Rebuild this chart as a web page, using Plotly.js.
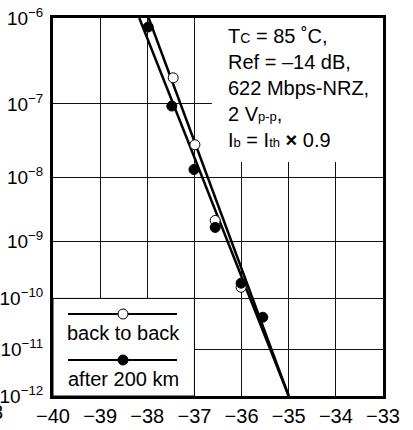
<!DOCTYPE html>
<html>
<head>
<meta charset="utf-8">
<script src="https://cdn.plot.ly/plotly-3.0.1.min.js"></script>
<style>
  html, body { margin: 0; padding: 0; background: #fff; }
  #chart { width: 413px; height: 430px; }
</style>
</head>
<body>
<div id="chart"></div>
<script>
// ---- data (received power in dBm, bit error rate) ----
const b2bPower = [-37.45, -36.99, -36.56, -36.01];
const b2bBer   = [2.1e-7, 2.9e-8, 2.2e-9, 1.6e-10];
const km200Power = [-37.98, -37.48, -37.01, -36.56, -36.01, -35.55];
const km200Ber   = [8.0e-7, 9.4e-8, 1.3e-8, 1.7e-9, 1.9e-10, 4.4e-11];
// fitted lines (end points)
const b2bFitPower = [-37.97, -35.0];
const b2bFitBer   = [1e-6, 1e-12];
const km200FitPower = [-38.17, -35.0];
const km200FitBer   = [1e-6, 1e-12];
// axis ticks
const xTicks = [-40, -39, -38, -37, -36, -35, -34, -33];
const berTicks = [1e-6, 1e-7, 1e-8, 1e-9, 1e-10, 1e-11, 1e-12];
const berTickText = ['10<sup>−6</sup>', '10<sup>−7</sup>', '10<sup>−8</sup>', '10<sup>−9</sup>',
                     '10<sup>−10</sup>', '10<sup>−11</sup>', '10<sup>−12</sup>'];
const legendLabels = ['back to back', 'after 200 km'];

// BER probability-like scale
const C = 0.6;
function yPos(ber) { return -Math.log10(-Math.log10(ber) - C); }

const FONT = 'Liberation Sans, Arial, sans-serif';

const traces = [
  { x: km200FitPower, y: km200FitBer.map(yPos), mode: 'lines', line: {color: '#000', width: 2.5}, hoverinfo: 'skip', cliponaxis: true },
  { x: b2bFitPower, y: b2bFitBer.map(yPos), mode: 'lines', line: {color: '#000', width: 2.5}, hoverinfo: 'skip', cliponaxis: true },
  { x: b2bPower, y: b2bBer.map(yPos), mode: 'markers', name: legendLabels[0],
    marker: {symbol: 'circle', size: 10, color: '#fff', line: {color: '#000', width: 1}}, cliponaxis: false },
  { x: km200Power, y: km200Ber.map(yPos), mode: 'markers', name: legendLabels[1],
    marker: {symbol: 'circle', size: 10, color: '#000', line: {color: '#000', width: 1}}, cliponaxis: false }
];

const W = 330, H = 378; // plot area px
function px(xp) { return (xp - 53) / W; }
function py(yp) { return 1 - (yp - 18) / H; }

const shapes = [
  // text box cover
  { type: 'rect', layer: 'between', xref: 'x', yref: 'y', x0: -36.63, x1: -33, y0: yPos(1.67e-8), y1: yPos(1e-6),
    fillcolor: '#fff', line: {width: 0} },
  // legend box
  { type: 'rect', layer: 'between', xref: 'x', yref: 'y', x0: -40, x1: -37, y0: yPos(1e-12), y1: yPos(1e-10),
    fillcolor: '#fff', line: {color: '#000', width: 1} },
  // legend lines
  { type: 'line', layer: 'above', xref: 'paper', yref: 'paper', x0: px(68), x1: px(177), y0: py(314), y1: py(314), line: {color: '#000', width: 2} },
  { type: 'line', layer: 'above', xref: 'paper', yref: 'paper', x0: px(68), x1: px(177), y0: py(360), y1: py(360), line: {color: '#000', width: 2} },
  // legend markers
  { type: 'circle', layer: 'above', xref: 'paper', yref: 'paper', xsizemode: 'pixel', ysizemode: 'pixel',
    xanchor: px(123), yanchor: py(314), x0: -5, x1: 5, y0: -5, y1: 5, fillcolor: '#fff', line: {color: '#000', width: 1} },
  { type: 'circle', layer: 'above', xref: 'paper', yref: 'paper', xsizemode: 'pixel', ysizemode: 'pixel',
    xanchor: px(123), yanchor: py(360), x0: -5, x1: 5, y0: -5, y1: 5, fillcolor: '#000', line: {color: '#000', width: 1} }
];

const annotations = [
  { xref: 'paper', yref: 'paper', x: px(123), y: py(333), text: legendLabels[0], showarrow: false,
    xanchor: 'center', yanchor: 'middle', font: {family: FONT, size: 20, color: '#000'} },
  { xref: 'paper', yref: 'paper', x: px(123), y: py(379), text: legendLabels[1], showarrow: false,
    xanchor: 'center', yanchor: 'middle', font: {family: FONT, size: 20, color: '#000'} },
  { xref: 'paper', yref: 'paper', x: px(226), y: py(23), xanchor: 'left', yanchor: 'top', align: 'left', showarrow: false,
    font: {family: FONT, size: 20, color: '#000'},
    text: 'T<span style="font-size:14px">C</span> = 85 ˚C,<br>Ref = –14 dB,<br>622 Mbps-NRZ,<br>2 V<span style="font-size:13px">p-p</span>,<br>I<span style="font-size:13px">b</span> = I<span style="font-size:13px">th</span> <b>×</b> 0.9' },
  { xref: 'paper', yref: 'paper', x: px(5), y: py(412), xanchor: 'right', yanchor: 'middle', text: '3', showarrow: false,
    font: {family: FONT, size: 20, color: '#000'} }
];

const layout = {
  width: 413, height: 430,
  margin: {l: 53, r: 30, t: 18, b: 34, pad: 0},
  paper_bgcolor: '#fff', plot_bgcolor: '#fff',
  showlegend: false,
  font: {family: FONT, size: 20, color: '#000'},
  xaxis: {
    range: [-40, -33], tickvals: xTicks, showgrid: true, gridcolor: '#111', gridwidth: 1,
    zeroline: false, showline: true, linecolor: '#000', linewidth: 3, mirror: true,
    ticks: '', ticklen: 0, tickfont: {family: FONT, size: 20, color: '#000'}
  },
  yaxis: {
    range: [yPos(1e-12), yPos(1e-6)], tickvals: berTicks.map(yPos), ticktext: berTickText,
    showgrid: true, gridcolor: '#111', gridwidth: 1,
    zeroline: false, showline: true, linecolor: '#000', linewidth: 3, mirror: true,
    ticks: '', ticklen: 0, ticklabelstandoff: 3, tickfont: {family: FONT, size: 19, color: '#000'}
  },
  shapes: shapes,
  annotations: annotations
};

Plotly.newPlot('chart', traces, layout, {staticPlot: true, displayModeBar: false});
</script>
</body>
</html>
